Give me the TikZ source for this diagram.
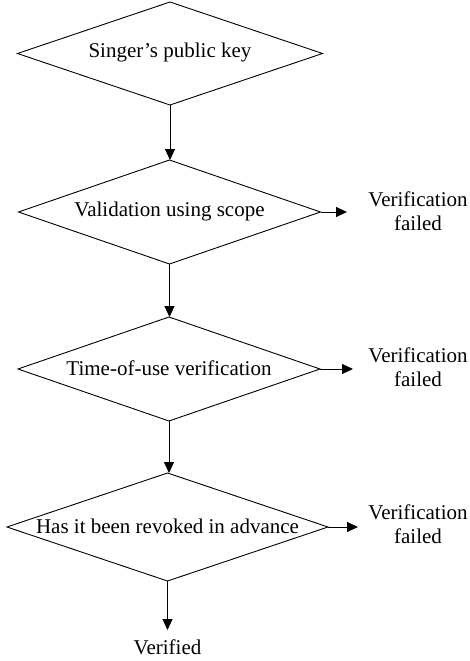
\documentclass[tikz,border=0pt]{standalone}
\usepackage{fontspec}
\setmainfont{Liberation Serif}
\usetikzlibrary{shapes.geometric,arrows.meta}
\begin{document}
\begin{tikzpicture}[x=1pt,y=-1pt,
  dia/.style={diamond,draw,line width=0.9pt,inner sep=0pt,outer sep=0pt},
  lbl/.style={font=\fontsize{21}{24}\selectfont,inner sep=0pt,align=center},
  conn/.style={line width=0.9pt,-{Triangle[length=11pt,width=10pt]}}]
\useasboundingbox (0,0) rectangle (470,661);
\node[dia,minimum width=305pt,minimum height=103pt] (d1) at (170,53.5) {};
\node[dia,minimum width=302pt,minimum height=104pt] (d2) at (169.5,212) {};
\node[dia,minimum width=302pt,minimum height=104pt] (d3) at (169,369) {};
\node[dia,minimum width=321pt,minimum height=108pt] (d4) at (167.5,527) {};
\node[lbl] (t1) at ([yshift=1pt]d1.center) {Singer’s public key};
\node[lbl] (t2) at ([yshift=1pt]d2.center) {Validation using scope};
\node[lbl] (t3) at ([yshift=1pt]d3.center) {Time-of-use verification};
\node[lbl] (t4) at ([yshift=1pt]d4.center) {Has it been revoked in advance};
\node[lbl] (f2) at (418,211) {Verification\\failed};
\node[lbl] (f3) at (418,367) {Verification\\failed};
\node[lbl] (f4) at (418,524) {Verification\\failed};
\node[lbl] (v) at (167.5,647) {Verified};
\draw[conn] (d1.south) -- (d1.south |- d2.north);
\draw[conn] (d2.south) -- (d2.south |- d3.north);
\draw[conn] (d3.south) -- (d3.south |- d4.north);
\draw[conn] (d4.south) -- (d4.south |- 0,630) coordinate (vt);
\draw[conn] (d2.east) -- (d2.east -| 347,0) coordinate (e2);
\draw[conn] (d3.east) -- (d3.east -| 353,0) coordinate (e3);
\draw[conn] (d4.east) -- (d4.east -| 358,0) coordinate (e4);
\end{tikzpicture}
\end{document}
